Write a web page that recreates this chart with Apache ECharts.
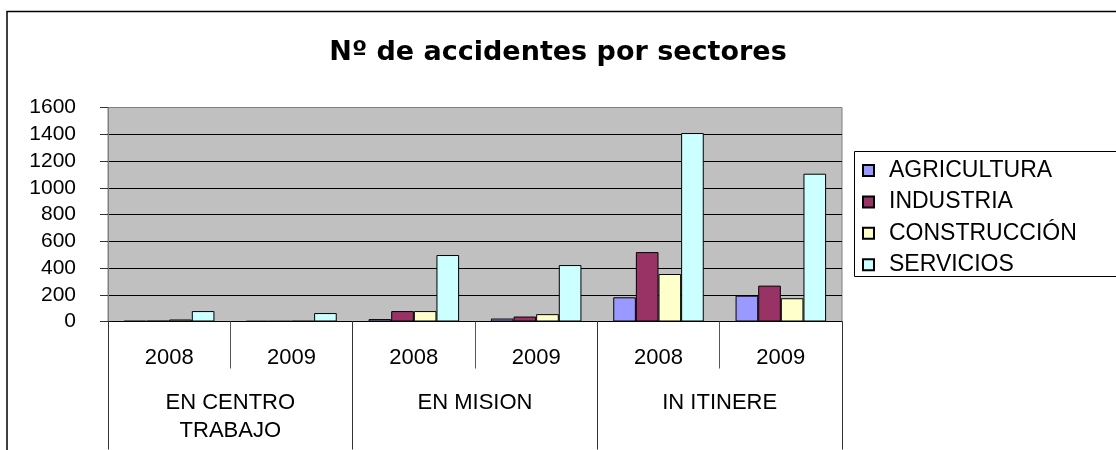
<!DOCTYPE html>
<html>
<head>
<meta charset="utf-8">
<script src="https://cdn.jsdelivr.net/npm/echarts@6/dist/echarts.min.js"></script>
<style>
  html, body { margin: 0; padding: 0; background: #fff; }
  #chart { width: 1116px; height: 450px; }
</style>
</head>
<body>
<div id="chart"></div>
<script>
const years = ["2008", "2009", "2008", "2009", "2008", "2009"];
const groups = ["EN CENTRO\nTRABAJO", "EN MISION", "IN ITINERE"];
const yTicks = { min: 0, max: 1600, step: 200 };

const agricultura = [4, 3, 18, 22, 181, 193];
const industria = [5, 3, 78, 37, 519, 268];
const construccion = [15, 4, 78, 55, 355, 174];
const servicios = [78, 63, 497, 422, 1409, 1105];

const names = ["AGRICULTURA", "INDUSTRIA", "CONSTRUCCIÓN", "SERVICIOS"];
const colors = ["#9999FF", "#993366", "#FFFFCC", "#CCFFFF"];

const mychart = echarts.init(document.getElementById("chart"));
const labelFont = "Liberation Sans, Arial, sans-serif";

const barSeries = [agricultura, industria, construccion, servicios].map((vals, i) => ({
  name: names[i],
  type: "bar",
  data: vals,
  barGap: "0%",
  barCategoryGap: "26%",
  itemStyle: { color: colors[i], borderColor: "#000", borderWidth: 1 },
}));

let option = {
  animation: false,
  backgroundColor: "#fff",
  title: {
    text: "Nº de accidentes por sectores",
    left: "center",
    top: 34,
    textStyle: {
      fontFamily: "DejaVu Sans",
      fontWeight: "bold",
      fontSize: 27,
      color: "#000",
    },
  },
  graphic: [
    {
      type: "rect",
      shape: { x: 7, y: 11.5, width: 1300, height: 600 },
      style: { fill: "none", stroke: "#000", lineWidth: 1.5 },
      silent: true,
    },
    {
      type: "rect",
      shape: { x: 854.5, y: 151.5, width: 400, height: 125 },
      style: { fill: "none", stroke: "#000", lineWidth: 1 },
      silent: true,
    },
  ],
  legend: {
    orient: "vertical",
    left: 862,
    top: 159,
    padding: 0,
    itemWidth: 11,
    itemHeight: 11,
    itemGap: 8.4,
    icon: "rect",
    data: names,
    textStyle: {
      fontFamily: labelFont,
      fontSize: 23,
      lineHeight: 20,
      color: "#000",
      padding: [0, 0, 0, 10],
    },
  },
  grid: {
    left: 108,
    top: 107.5,
    right: 274,
    bottom: 128.5,
    show: true,
    backgroundColor: "#C0C0C0",
    borderColor: "#808080",
    borderWidth: 1,
  },
  xAxis: [
    {
      type: "category",
      data: years,
      position: "bottom",
      axisLine: { show: true, lineStyle: { color: "#000", width: 1 } },
      axisTick: {
        show: true,
        interval: 0,
        length: 47,
        lineStyle: { color: "#555" },
      },
      axisLabel: {
        interval: 0,
        margin: 25,
        fontFamily: labelFont,
        fontSize: 22,
        lineHeight: 22,
        color: "#000",
      },
    },
    {
      type: "category",
      data: groups,
      position: "bottom",
      axisLine: { show: false },
      axisTick: {
        show: true,
        interval: 0,
        length: 128,
        lineStyle: { color: "#333" },
      },
      axisLabel: {
        interval: 0,
        margin: 67,
        fontFamily: labelFont,
        fontSize: 22,
        lineHeight: 28,
        color: "#000",
      },
    },
  ],
  yAxis: {
    type: "value",
    min: yTicks.min,
    max: yTicks.max,
    interval: yTicks.step,
    axisLine: { show: true, lineStyle: { color: "#808080" } },
    axisTick: { show: true, length: 8, lineStyle: { color: "#333" } },
    axisLabel: {
      margin: 32,
      fontFamily: labelFont,
      fontSize: 21,
      color: "#000",
      formatter: (v) => String(v),
    },
    splitLine: {
      show: true,
      showMinLine: false,
      showMaxLine: false,
      lineStyle: { color: "#000", width: 1 },
    },
  },
  series: barSeries,
};
mychart.setOption(option);
</script>
</body>
</html>
